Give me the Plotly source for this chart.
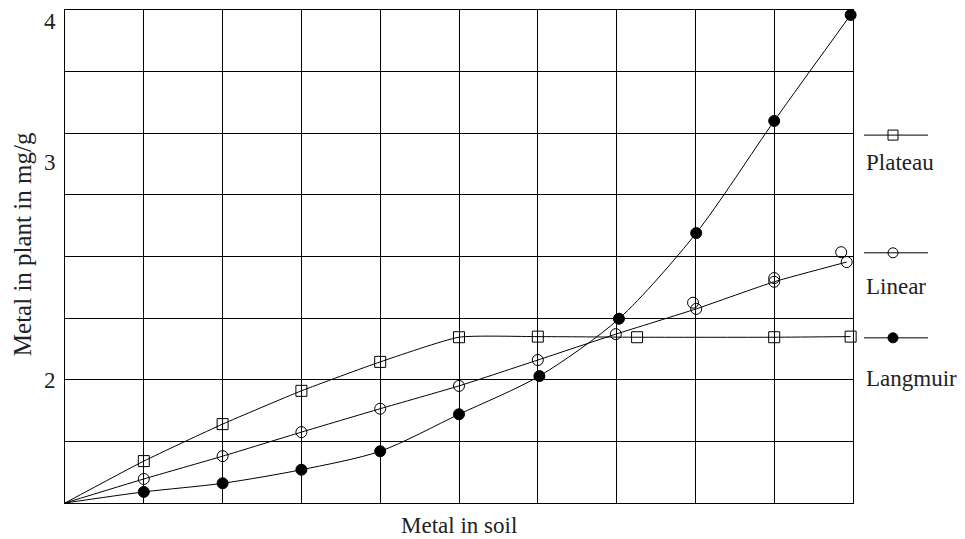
import plotly.graph_objects as go

# ---- data (x: grid units of metal in soil, y: grid units; y tick labels at 2, 5.5, 8) ----
plateau_x = [0, 1, 2, 3, 4, 5, 6, 7.26, 9, 9.97]
plateau_y = [0, 0.68, 1.28, 1.82, 2.29, 2.69, 2.70, 2.69, 2.69, 2.70]

linear_x = [0, 1, 2, 3, 4, 5, 6, 6.99, 8.01, 9, 9.92]
linear_y = [0, 0.39, 0.76, 1.15, 1.53, 1.90, 2.32, 2.74, 3.15, 3.59, 3.91]
linear_extra_x = [7.97, 9.0, 9.85]
linear_extra_y = [3.25, 3.65, 4.07]

langmuir_x = [0, 1, 2, 3, 4, 5, 6.02, 7.03, 8.01, 9, 9.97]
langmuir_y = [0, 0.18, 0.32, 0.54, 0.84, 1.44, 2.06, 2.99, 4.38, 6.20, 7.92]

y_tick_vals = [1.98, 5.53, 7.81]
y_tick_text = ["2", "3", "4"]

series_names = ["Plateau", "Linear", "Langmuir"]
legend_y = [5.97, 4.06, 2.68]
legend_label_y = [5.53, 3.52, 2.02]
legend_symbols = ["square-open", "circle-open", "circle"]

FONT = "Liberation Serif"
FS = 23
TXT = "#222"
MS = 11

fig = go.Figure()

def marker(sym):
    return dict(symbol=sym, size=MS, color="black", line=dict(color="black", width=1))

fig.add_trace(go.Scatter(x=plateau_x, y=plateau_y, mode="lines",
                         line=dict(color="black", width=1, shape="spline", smoothing=0.5),
                         showlegend=False, cliponaxis=False))
fig.add_trace(go.Scatter(x=plateau_x[1:], y=plateau_y[1:], mode="markers",
                         marker=marker("square-open"), showlegend=False, cliponaxis=False))
fig.add_trace(go.Scatter(x=linear_x, y=linear_y, mode="lines",
                         line=dict(color="black", width=1, shape="spline", smoothing=0.5),
                         showlegend=False, cliponaxis=False))
fig.add_trace(go.Scatter(x=linear_x[1:] + linear_extra_x, y=linear_y[1:] + linear_extra_y,
                         mode="markers", marker=marker("circle-open"), showlegend=False,
                         cliponaxis=False))
fig.add_trace(go.Scatter(x=langmuir_x, y=langmuir_y, mode="lines",
                         line=dict(color="black", width=1, shape="spline", smoothing=0.8),
                         showlegend=False, cliponaxis=False))
fig.add_trace(go.Scatter(x=langmuir_x[1:], y=langmuir_y[1:], mode="markers",
                         marker=marker("circle"), showlegend=False, cliponaxis=False))

# manual legend in right panel (x2/y2 in pixel-like / grid units)
for name, ly, lly, sym in zip(series_names, legend_y, legend_label_y, legend_symbols):
    fig.add_trace(go.Scatter(x=[864, 928], y=[ly, ly], mode="lines", xaxis="x2", yaxis="y2",
                             line=dict(color="black", width=1), showlegend=False))
    fig.add_trace(go.Scatter(x=[893], y=[ly], mode="markers", xaxis="x2", yaxis="y2",
                             marker=dict(symbol=sym, size=10, color="black",
                                         line=dict(color="black", width=1)),
                             showlegend=False, cliponaxis=False))
    fig.add_annotation(x=864, y=lly, xref="x2", yref="y2", text=name, showarrow=False,
                       xanchor="left", yanchor="middle",
                       font=dict(family=FONT, size=FS, color=TXT))

# y tick labels
for v, t in zip(y_tick_vals, y_tick_text):
    fig.add_annotation(x=0, y=v, xref="paper", yref="y", text=t, showarrow=False,
                       xanchor="right", yanchor="middle", xshift=-7,
                       font=dict(family=FONT, size=FS, color=TXT))

# axis titles
fig.add_annotation(x=0, y=4.2, xref="paper", yref="y", text="Metal in plant in mg/g",
                   showarrow=False, textangle=-90, xanchor="center", yanchor="middle",
                   xshift=-43, font=dict(family=FONT, size=25, color=TXT))
fig.add_annotation(x=5, y=0, xref="x", yref="y", text="Metal in soil",
                   showarrow=False, xanchor="center", yanchor="middle",
                   yshift=-22, font=dict(family=FONT, size=FS, color=TXT))

split = 788 / 900

fig.update_layout(
    width=957, height=531,
    margin=dict(l=57, r=0, t=2, b=36),
    paper_bgcolor="white", plot_bgcolor="white",
    font=dict(family=FONT, size=FS, color=TXT),
    xaxis=dict(domain=[0, split], range=[0, 10], showticklabels=False, ticks="",
               tickmode="linear", tick0=0, dtick=1,
               showgrid=True, gridcolor="black", gridwidth=1.2,
               showline=True, linecolor="black", linewidth=1.2, mirror=True,
               zeroline=False),
    xaxis2=dict(domain=[split, 1], range=[853, 965], visible=False, anchor="y2",
                showgrid=False),
    yaxis=dict(range=[0, 8], showticklabels=False, ticks="",
               tickmode="linear", tick0=0, dtick=1,
               showgrid=True, gridcolor="black", gridwidth=1.2,
               showline=True, linecolor="black", linewidth=1.2, mirror=True,
               zeroline=False),
    yaxis2=dict(range=[0, 8], domain=[0, 1], anchor="x2", visible=False, showgrid=False),
)

fig.write_html("out.html")
